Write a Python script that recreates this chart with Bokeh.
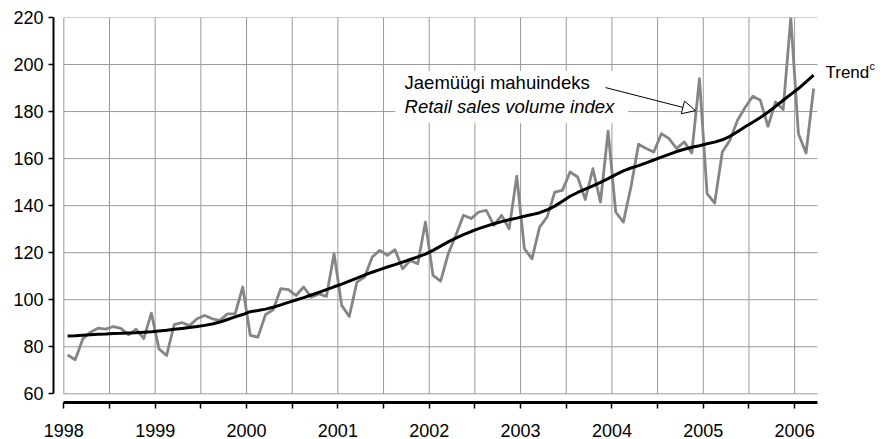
from bokeh.plotting import figure
from bokeh.models import Range1d, FixedTicker, Label, Arrow, NormalHead, BoxAnnotation
from bokeh.embed import file_html
from bokeh.resources import INLINE

# ---- data ----
start_year = 1998
year_ticks = [1998, 1999, 2000, 2001, 2002, 2003, 2004, 2005, 2006]
half_year_ticks = [1998.5, 1999.5, 2000.5, 2001.5, 2002.5, 2003.5, 2004.5, 2005.5]
grid_x = [1998, 1998.5, 1999, 1999.5, 2000, 2000.5, 2001, 2001.5, 2002, 2002.5,
          2003, 2003.5, 2004, 2004.5, 2005, 2005.5, 2006]
y_ticks = [60, 80, 100, 120, 140, 160, 180, 200, 220]

retail_index = [
    # 1998
    76.5, 74.5, 83.4, 86.2, 87.9, 87.5, 88.6, 87.8, 85.1, 87.5, 83.5, 94.3,
    # 1999
    79.1, 76.3, 89.4, 90.3, 89.0, 91.9, 93.3, 91.9, 91.2, 94.0, 94.0, 105.4,
    # 2000
    84.8, 84.1, 93.7, 95.7, 104.7, 104.3, 101.8, 105.4, 101.1, 102.5, 101.4, 119.6,
    # 2001
    97.6, 92.9, 107.5, 109.6, 118.1, 121.0, 118.9, 121.3, 113.2, 116.7, 115.3, 133.0,
    # 2002
    110.3, 107.9, 119.6, 127.4, 135.9, 134.5, 137.3, 138.0, 131.6, 135.9, 130.2, 152.5,
    # 2003
    121.7, 117.4, 130.9, 135.2, 145.8, 146.5, 154.3, 152.2, 142.6, 155.7, 141.5, 171.7,
    # 2004
    137.3, 133.0, 147.9, 166.1, 164.3, 162.8, 170.6, 168.5, 164.3, 167.1, 162.4, 194.0,
    # 2005
    145.1, 141.1, 162.8, 167.8, 176.3, 181.7, 186.5, 184.8, 173.7, 184.1, 180.9, 220.0,
    # 2006
    170.6, 162.4, 189.8,
]

trend = [
    # 1998
    84.6, 84.7, 84.9, 85.1, 85.3, 85.4, 85.6, 85.7, 85.9, 86.0, 86.2, 86.4,
    # 1999
    86.7, 87.0, 87.4, 87.8, 88.2, 88.6, 89.1, 89.7, 90.5, 91.6, 92.7, 93.7,
    # 2000
    94.9, 95.4, 96.0, 96.8, 97.8, 98.9, 99.9, 100.9, 102.0, 103.1, 104.3, 105.5,
    # 2001
    106.6, 107.9, 109.2, 110.5, 111.7, 112.8, 113.9, 114.9, 116.0, 117.1, 118.2, 119.4,
    # 2002
    121.0, 122.8, 124.6, 126.2, 127.7, 129.0, 130.2, 131.3, 132.3, 133.2, 134.0, 134.7,
    # 2003
    135.5, 136.2, 137.0, 138.2, 139.8, 141.9, 144.0, 145.6, 147.0, 148.4, 149.9, 151.5,
    # 2004
    153.2, 154.8, 156.0, 157.0, 158.2, 159.4, 160.6, 161.8, 163.0, 164.0, 164.8, 165.5,
    # 2005
    166.3, 167.0, 168.0, 169.5, 171.4, 173.5, 175.5, 177.5, 179.7, 182.2, 184.8, 187.3,
    # 2006
    189.8, 192.6, 195.5,
]

# month mid-points as decimal years
months = [start_year + (i + 0.5) / 12.0 for i in range(len(retail_index))]

FONT = "Liberation Sans"
GRID = "#999999"

p = figure(width=885, height=439,
           x_range=Range1d(1997.887, 2006.973), y_range=Range1d(56.3, 220),
           output_backend="svg", toolbar_location=None,
           min_border_left=53, min_border_right=2, min_border_top=17, min_border_bottom=36)
p.outline_line_color = None
p.grid.visible = False

# grid lines (bounded to the data area)
x_lo, x_hi = 1998, 2006.25
p.segment(x0=[x_lo] * len(y_ticks), y0=y_ticks, x1=[x_hi] * len(y_ticks), y1=y_ticks,
          line_color=GRID, line_width=1)
p.segment(x0=grid_x, y0=[y_ticks[0]] * len(grid_x), x1=grid_x, y1=[y_ticks[-1]] * len(grid_x),
          line_color=GRID, line_width=1)

# annotation background (white box hiding grid behind the labels)
p.add_layout(BoxAnnotation(left=2001.63, right=2004.18, bottom=175.0, top=197.4,
                           fill_color="white", fill_alpha=1.0, line_alpha=0))

# series
p.line(months, retail_index, line_color="#858585", line_width=2.8, line_join="round")
p.line(months, trend, line_color="black", line_width=3, line_join="round")

# axes
p.yaxis.ticker = FixedTicker(ticks=y_ticks, minor_ticks=[])
p.yaxis.bounds = (60, 220)
p.yaxis.axis_line_width = 2
p.yaxis.major_tick_out = 5
p.yaxis.major_tick_in = 0
p.yaxis.major_tick_line_width = 1.5
p.yaxis.minor_tick_out = 0
p.yaxis.minor_tick_in = 0
p.yaxis.major_label_standoff = 5
p.yaxis.major_label_text_font = FONT
p.yaxis.major_label_text_font_size = "18px"
p.yaxis.major_label_text_color = "black"

p.xaxis.ticker = FixedTicker(ticks=year_ticks, minor_ticks=half_year_ticks)
p.xaxis.bounds = (1998, 2006.25)
p.xaxis.axis_line_width = 3
p.xaxis.major_tick_out = 6
p.xaxis.major_tick_in = 0
p.xaxis.minor_tick_out = 6
p.xaxis.minor_tick_in = 0
p.xaxis.major_tick_line_width = 1.5
p.xaxis.minor_tick_line_width = 1.5
p.xaxis.minor_tick_line_color = "black"
p.xaxis.major_label_standoff = 15
p.xaxis.major_label_text_font = FONT
p.xaxis.major_label_text_font_size = "18px"
p.xaxis.major_label_text_color = "black"

# texts
p.add_layout(Label(x=2001.73, y=192.3, text="Jaemüügi mahuindeks", text_font=FONT,
                   text_font_size="18.5px", text_baseline="middle", text_color="black"))
p.add_layout(Label(x=2001.73, y=182.1, text="Retail sales volume index", text_font=FONT,
                   text_font_size="18.5px", text_font_style="italic", text_baseline="middle",
                   text_color="black"))
p.add_layout(Arrow(x_start=2003.93, y_start=190.2, x_end=2004.915, y_end=180.4,
                   line_width=1, line_color="black",
                   end=NormalHead(size=13, fill_color="white", line_color="black", line_width=1)))
p.add_layout(Label(x=2006.338, y=196.7, text="Trend", text_font=FONT, text_font_size="17px",
                   text_baseline="middle", text_color="black"))
p.add_layout(Label(x=2006.82, y=199.5, text="c", text_font=FONT, text_font_size="11px",
                   text_baseline="middle", text_color="black"))

open("out.html", "w").write(file_html(p, INLINE))
